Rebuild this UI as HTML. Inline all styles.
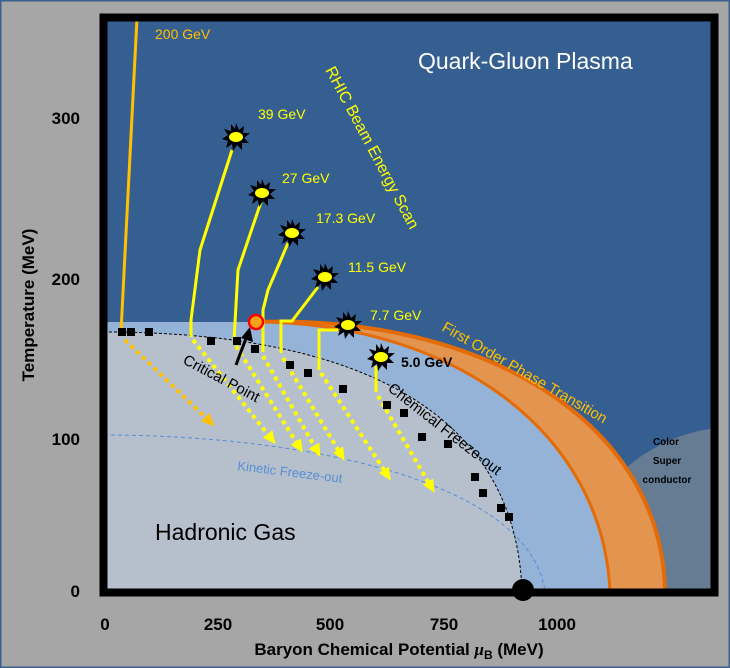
<!DOCTYPE html>
<html><head><meta charset="utf-8"><style>
html,body{margin:0;padding:0;background:#a6a6a6;width:730px;height:668px;overflow:hidden}
svg{display:block}
text{font-family:"Liberation Sans",sans-serif}
.ax{font-family:"Liberation Sans Narrow","Liberation Sans",sans-serif;font-weight:bold;font-size:17px;fill:#000}
.ye{fill:#ffff00;font-size:14px}
</style></head><body>
<svg width="730" height="668" viewBox="0 0 730 668" xmlns="http://www.w3.org/2000/svg">
<defs>
<clipPath id="pa"><rect x="104" y="18" width="610" height="574"/></clipPath>
<g id="st">
<polygon fill="#000" points="0,-14 3,-7 8,-11 7,-4 14,-4 8,1 13,6 6,6 6,13 1,8 -3,14 -4,7 -10,11 -8,4 -14,2 -8,-2 -12,-8 -5,-6 -5,-13 -1,-8"/>
<ellipse rx="7" ry="5" fill="#ffff00"/>
</g>
<marker id="ay" markerWidth="14" markerHeight="14" refX="4" refY="7" orient="auto" markerUnits="userSpaceOnUse"><path d="M0,1 L13,7 L0,13z" fill="#ffff00"/></marker>
<marker id="ao" markerWidth="14" markerHeight="14" refX="4" refY="7" orient="auto" markerUnits="userSpaceOnUse"><path d="M0,1 L13,7 L0,13z" fill="#ffc000"/></marker>
</defs>
<rect x="0" y="0" width="730" height="668" fill="#a6a6a6" stroke="#3b6090" stroke-width="3"/>
<g clip-path="url(#pa)">
<rect x="104" y="18" width="610" height="574" fill="#365f91"/>
<circle cx="735" cy="592" r="165" fill="#657c93"/>
<path d="M104,322 L255,322 C480,314 662,420 665,592 L104,592Z" fill="#e3954f"/>
<path d="M255,322 C480,314 662,420 665,592" fill="none" stroke="#e36c09" stroke-width="4"/>
<path d="M104,322 L255,322 C450,322 603,430 610,592 L104,592Z" fill="#95b3d7"/>
<path d="M255,322 C450,322 603,430 610,592" fill="none" stroke="#e36c09" stroke-width="3"/>
<path d="M104,332 C300,332 515,380 522,592 L104,592Z" fill="#b6c0cc"/>
<path d="M104,332 C300,332 515,380 522,592" fill="none" stroke="#000" stroke-width="1" stroke-dasharray="3,2"/>
<path d="M104,435 C300,435 530,480 545,592" fill="none" stroke="#558ed5" stroke-width="1" stroke-dasharray="4,3"/>
</g>
<path d="M121,332 L137,18" stroke="#ffc000" stroke-width="3" fill="none"/>
<g stroke="#ffff00" stroke-width="3" fill="none">
<path d="M232,150 L200,250 L191,320 L191,337"/>
<path d="M261,202 L238,270 L234,340"/>
<path d="M288,243 L268,290 L263,310 L263,352"/>
<path d="M318,287 L292,321 L281,321 L281,353"/>
<path d="M338,330 L319,330 L319,370"/>
<path d="M376,366 L376,392"/>
</g>
<g stroke="#ffff00" stroke-width="4" stroke-dasharray="4,4" fill="none" marker-end="url(#ay)">
<path d="M193,340 L270,437"/>
<path d="M236,346 L298,445"/>
<path d="M263,356 L316,449"/>
<path d="M283,358 L340,453"/>
<path d="M321,373 L386,473"/>
<path d="M378,396 L430,485"/>
</g>
<path d="M125,340 L208,420" stroke="#ffc000" stroke-width="4" stroke-dasharray="4,4" fill="none" marker-end="url(#ao)"/>
<use href="#st" x="236" y="137"/>
<use href="#st" x="262" y="193"/>
<use href="#st" x="292" y="233"/>
<use href="#st" x="325" y="277"/>
<use href="#st" x="348" y="325"/>
<use href="#st" x="381" y="357"/>
<g fill="#000">
<rect x="118" y="328" width="8" height="8"/><rect x="127" y="328" width="8" height="8"/><rect x="145" y="328" width="8" height="8"/>
<rect x="207" y="337" width="8" height="8"/><rect x="233" y="337" width="8" height="8"/><rect x="251" y="345" width="8" height="8"/>
<rect x="286" y="361" width="8" height="8"/><rect x="304" y="369" width="8" height="8"/><rect x="339" y="385" width="8" height="8"/>
<rect x="383" y="401" width="8" height="8"/><rect x="400" y="409" width="8" height="8"/><rect x="418" y="433" width="8" height="8"/>
<rect x="444" y="440" width="8" height="8"/><rect x="471" y="473" width="8" height="8"/><rect x="479" y="489" width="8" height="8"/>
<rect x="497" y="504" width="8" height="8"/><rect x="505" y="513" width="8" height="8"/>
</g>
<path d="M236,365 L248,333" stroke="#000" stroke-width="3"/>
<path d="M241,338 L250,327 L253,342z" fill="#000"/>
<circle cx="256" cy="322" r="7" fill="#f7a21b" stroke="#ff0000" stroke-width="2.5"/>
<rect x="103.5" y="17.5" width="611" height="575" fill="none" stroke="#000" stroke-width="8"/>
<circle cx="523" cy="590" r="11" fill="#000"/>
<text x="155" y="39" fill="#ffc000" font-size="14">200 GeV</text>
<text x="258" y="119" class="ye">39 GeV</text>
<text x="282" y="183" class="ye">27 GeV</text>
<text x="316" y="223" class="ye">17.3 GeV</text>
<text x="348" y="272" class="ye">11.5 GeV</text>
<text x="370" y="320" class="ye">7.7 GeV</text>
<text x="401" y="367" fill="#000" font-size="14" font-weight="bold">5.0 GeV</text>
<text x="418" y="69" fill="#fff" font-size="23">Quark-Gluon Plasma</text>
<text transform="translate(325,70) rotate(62)" fill="#ffff00" font-size="16">RHIC Beam  Energy  Scan</text>
<text transform="translate(441,330) rotate(30)" fill="#ffc000" font-size="15">First Order Phase Transition</text>
<text transform="translate(387,390) rotate(38)" fill="#000" font-size="15">Chemical Freeze-out</text>
<text transform="translate(182,363) rotate(28)" fill="#000" font-size="15">Critical Point</text>
<text transform="translate(237,470) rotate(7)" fill="#558ed5" font-size="13">Kinetic Freeze-out</text>
<text x="155" y="540" fill="#000" font-size="23">Hadronic Gas</text>
<g font-size="10" fill="#000" font-weight="bold" text-anchor="middle">
<text x="666" y="445">Color</text><text x="667" y="464">Super</text><text x="667" y="483">conductor</text>
</g>
<g class="ax" text-anchor="end">
<text x="80" y="124">300</text><text x="80" y="285">200</text><text x="80" y="445">100</text><text x="80" y="597">0</text>
</g>
<g class="ax" text-anchor="middle">
<text x="105" y="630">0</text><text x="218" y="630">250</text><text x="330" y="630">500</text><text x="444" y="630">750</text><text x="557" y="630">1000</text>
<text x="399" y="655">Baryon Chemical Potential <tspan font-style="italic" font-family="Liberation Serif,serif">μ</tspan><tspan font-size="12" dy="4">B</tspan><tspan dy="-4"> (MeV)</tspan></text>
</g>
<text class="ax" transform="translate(34,305) rotate(-90)" text-anchor="middle">Temperature (MeV)</text>
</svg>
</body></html>
